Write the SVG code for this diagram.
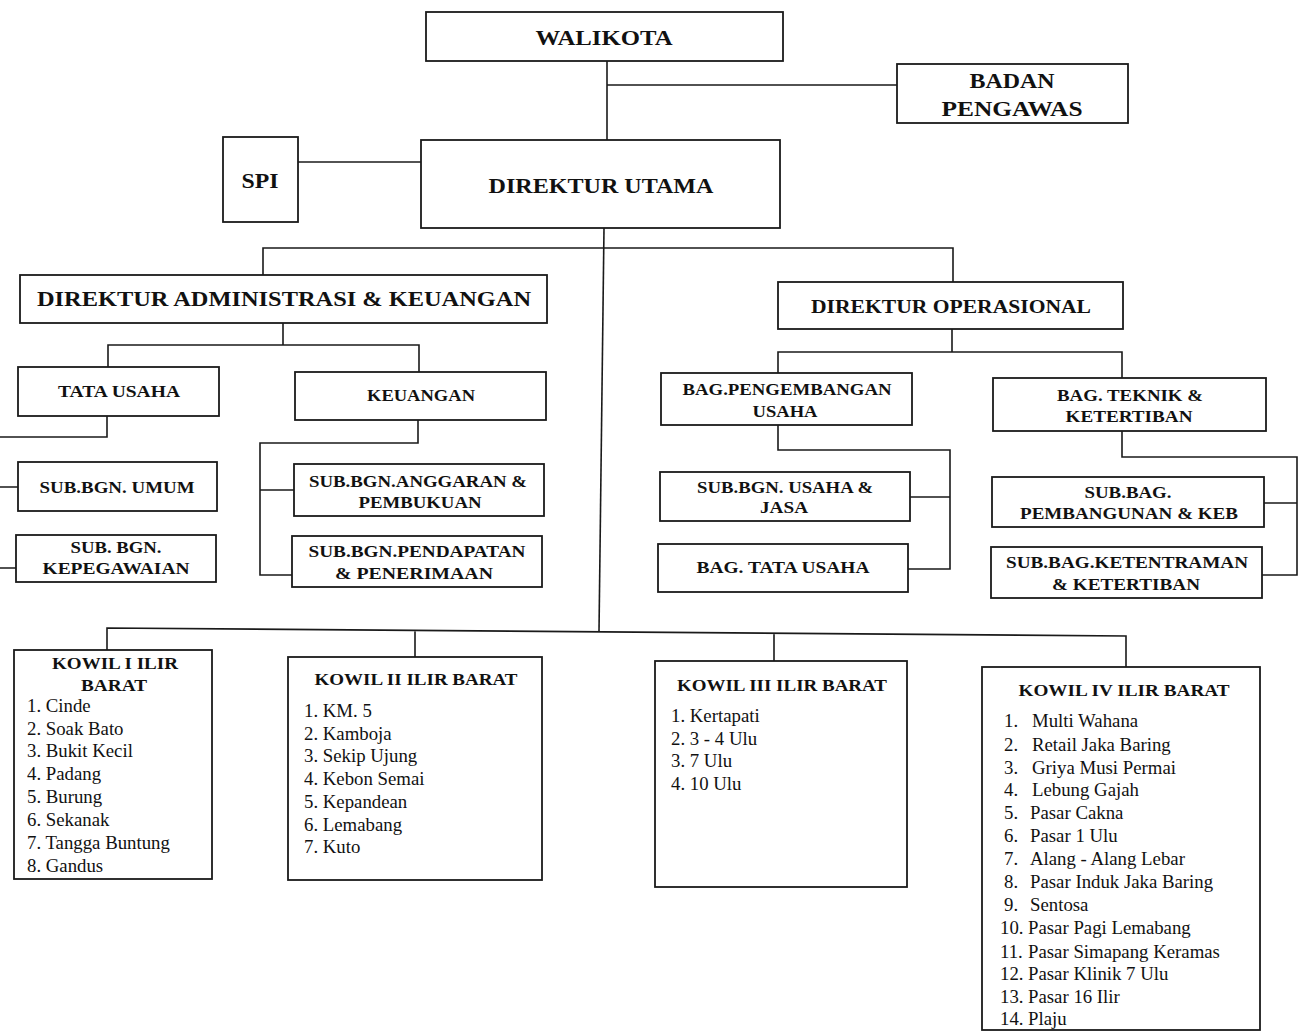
<svg xmlns="http://www.w3.org/2000/svg" width="1298" height="1033" viewBox="0 0 1298 1033">
<style>
.box{fill:#fff;stroke:#1a1a1a;stroke-width:1.8}
.ln{fill:none;stroke:#1a1a1a;stroke-width:1.6}
.h{font-family:"Liberation Serif","Times New Roman",serif;font-weight:bold;fill:#111;text-anchor:middle}
.i{font-family:"Liberation Serif","Times New Roman",serif;fill:#111;font-size:18.8px}
</style>
<rect width="1298" height="1033" fill="#fff"/>
<g id="connectors">
<path class="ln" d="M607 61 V142 M607 85 H897"/>
<path class="ln" d="M298 162 H421"/>
<path class="ln" d="M604 228 L599 632"/>
<path class="ln" d="M263 275 V248 H953 V283"/>
<path class="ln" d="M283 323 V345 M108 367 V345 H419 V372"/>
<path class="ln" d="M107 416 V437 H0"/>
<path class="ln" d="M0 487 H18 M0 568 H16"/>
<path class="ln" d="M418 420 V443 H260 V575 H292 M260 490 H294"/>
<path class="ln" d="M952 329 V352 M778 373 V352 H1122 V378"/>
<path class="ln" d="M778 425 V450 H950 V569 H908 M910 497 H950"/>
<path class="ln" d="M1122 431 V457 H1297 V575 H1262 M1264 503 H1297"/>
<path class="ln" d="M107 650 V628 L1126 636 V667 M415 658 V630 M774 661 V633"/>
</g>
<g id="walikota"><rect class="box" x="426" y="12" width="357" height="49"/><text class="h" x="604" y="45" font-size="20" textLength="137" lengthAdjust="spacingAndGlyphs">WALIKOTA</text></g>
<g id="badan-pengawas"><rect class="box" x="897" y="64" width="231" height="59"/><text class="h" x="1012" y="88" font-size="20" textLength="85" lengthAdjust="spacingAndGlyphs">BADAN</text><text class="h" x="1012" y="116" font-size="20" textLength="141" lengthAdjust="spacingAndGlyphs">PENGAWAS</text></g>
<g id="spi"><rect class="box" x="223" y="137" width="75" height="85"/><text class="h" x="260" y="188" font-size="20" textLength="37" lengthAdjust="spacingAndGlyphs">SPI</text></g>
<g id="direktur-utama"><rect class="box" x="421" y="140" width="359" height="88"/><text class="h" x="601" y="193" font-size="21" textLength="225" lengthAdjust="spacingAndGlyphs">DIREKTUR UTAMA</text></g>
<g id="dir-adm"><rect class="box" x="20" y="275" width="527" height="48"/><text class="h" x="284" y="306" font-size="22" textLength="494" lengthAdjust="spacingAndGlyphs">DIREKTUR ADMINISTRASI &amp; KEUANGAN</text></g>
<g id="dir-ops"><rect class="box" x="778" y="282" width="345" height="47"/><text class="h" x="951" y="313" font-size="19" textLength="280" lengthAdjust="spacingAndGlyphs">DIREKTUR OPERASIONAL</text></g>
<g id="tata-usaha"><rect class="box" x="18" y="367" width="201" height="49"/><text class="h" x="119" y="397" font-size="17" textLength="122" lengthAdjust="spacingAndGlyphs">TATA USAHA</text></g>
<g id="keuangan"><rect class="box" x="295" y="372" width="251" height="48"/><text class="h" x="421" y="401" font-size="17" textLength="108" lengthAdjust="spacingAndGlyphs">KEUANGAN</text></g>
<g id="sub-umum"><rect class="box" x="18" y="462" width="199" height="49"/><text class="h" x="117" y="493" font-size="17" textLength="155" lengthAdjust="spacingAndGlyphs">SUB.BGN. UMUM</text></g>
<g id="sub-kepegawaian"><rect class="box" x="16" y="535" width="200" height="47"/><text class="h" x="116" y="553" font-size="17" textLength="91" lengthAdjust="spacingAndGlyphs">SUB. BGN.</text><text class="h" x="116" y="574" font-size="17" textLength="147" lengthAdjust="spacingAndGlyphs">KEPEGAWAIAN</text></g>
<g id="sub-anggaran"><rect class="box" x="294" y="464" width="250" height="52"/><text class="h" x="418" y="487" font-size="17" textLength="218" lengthAdjust="spacingAndGlyphs">SUB.BGN.ANGGARAN &amp;</text><text class="h" x="420" y="508" font-size="17" textLength="123" lengthAdjust="spacingAndGlyphs">PEMBUKUAN</text></g>
<g id="sub-pendapatan"><rect class="box" x="292" y="536" width="250" height="51"/><text class="h" x="417" y="557" font-size="17" textLength="217" lengthAdjust="spacingAndGlyphs">SUB.BGN.PENDAPATAN</text><text class="h" x="414" y="579" font-size="17" textLength="158" lengthAdjust="spacingAndGlyphs">&amp; PENERIMAAN</text></g>
<g id="bag-pengembangan"><rect class="box" x="661" y="373" width="251" height="52"/><text class="h" x="787" y="395" font-size="16" textLength="209" lengthAdjust="spacingAndGlyphs">BAG.PENGEMBANGAN</text><text class="h" x="785" y="417" font-size="16" textLength="65" lengthAdjust="spacingAndGlyphs">USAHA</text></g>
<g id="bag-teknik"><rect class="box" x="993" y="378" width="273" height="53"/><text class="h" x="1130" y="401" font-size="17" textLength="146" lengthAdjust="spacingAndGlyphs">BAG. TEKNIK &amp;</text><text class="h" x="1129" y="422" font-size="17" textLength="127" lengthAdjust="spacingAndGlyphs">KETERTIBAN</text></g>
<g id="sub-usaha-jasa"><rect class="box" x="660" y="472" width="250" height="49"/><text class="h" x="785" y="493" font-size="16" textLength="176" lengthAdjust="spacingAndGlyphs">SUB.BGN. USAHA &amp;</text><text class="h" x="784" y="513" font-size="16" textLength="48" lengthAdjust="spacingAndGlyphs">JASA</text></g>
<g id="bag-tata-usaha"><rect class="box" x="658" y="544" width="250" height="48"/><text class="h" x="783" y="573" font-size="16" textLength="173" lengthAdjust="spacingAndGlyphs">BAG. TATA USAHA</text></g>
<g id="sub-pembangunan"><rect class="box" x="992" y="477" width="272" height="50"/><text class="h" x="1128" y="498" font-size="17" textLength="87" lengthAdjust="spacingAndGlyphs">SUB.BAG.</text><text class="h" x="1129" y="519" font-size="17" textLength="218" lengthAdjust="spacingAndGlyphs">PEMBANGUNAN &amp; KEB</text></g>
<g id="sub-ketentraman"><rect class="box" x="991" y="547" width="271" height="51"/><text class="h" x="1127" y="568" font-size="17" textLength="242" lengthAdjust="spacingAndGlyphs">SUB.BAG.KETENTRAMAN</text><text class="h" x="1126" y="590" font-size="17" textLength="148" lengthAdjust="spacingAndGlyphs">&amp; KETERTIBAN</text></g>
<g id="kowil-1"><rect class="box" x="14" y="650" width="198" height="229"/><text class="h" x="115" y="669" font-size="17" textLength="126" lengthAdjust="spacingAndGlyphs">KOWIL I ILIR</text><text class="h" x="114" y="691" font-size="17" textLength="66" lengthAdjust="spacingAndGlyphs">BARAT</text>
<text class="i" x="27" y="712">1. Cinde</text><text class="i" x="27" y="735">2. Soak Bato</text><text class="i" x="27" y="757">3. Bukit Kecil</text><text class="i" x="27" y="780">4. Padang</text><text class="i" x="27" y="803">5. Burung</text><text class="i" x="27" y="826">6. Sekanak</text><text class="i" x="27" y="849">7. Tangga Buntung</text><text class="i" x="27" y="872">8. Gandus</text></g>
<g id="kowil-2"><rect class="box" x="288" y="657" width="254" height="223"/><text class="h" x="416" y="685" font-size="17" textLength="203" lengthAdjust="spacingAndGlyphs">KOWIL II ILIR BARAT</text>
<text class="i" x="304" y="717">1. KM. 5</text><text class="i" x="304" y="740">2. Kamboja</text><text class="i" x="304" y="762">3. Sekip Ujung</text><text class="i" x="304" y="785">4. Kebon Semai</text><text class="i" x="304" y="808">5. Kepandean</text><text class="i" x="304" y="831">6. Lemabang</text><text class="i" x="304" y="853">7. Kuto</text></g>
<g id="kowil-3"><rect class="box" x="655" y="661" width="252" height="226"/><text class="h" x="782" y="691" font-size="17" textLength="210" lengthAdjust="spacingAndGlyphs">KOWIL III ILIR BARAT</text>
<text class="i" x="671" y="722">1. Kertapati</text><text class="i" x="671" y="745">2. 3 - 4 Ulu</text><text class="i" x="671" y="767">3. 7 Ulu</text><text class="i" x="671" y="790">4. 10 Ulu</text></g>
<g id="kowil-4"><rect class="box" x="982" y="667" width="278" height="363"/><text class="h" x="1124" y="696" font-size="17" textLength="211" lengthAdjust="spacingAndGlyphs">KOWIL IV ILIR BARAT</text>
<text class="i" x="1004" y="727">1.</text><text class="i" x="1032" y="727">Multi Wahana</text>
<text class="i" x="1004" y="751">2.</text><text class="i" x="1032" y="751">Retail Jaka Baring</text>
<text class="i" x="1004" y="774">3.</text><text class="i" x="1032" y="774">Griya Musi Permai</text>
<text class="i" x="1004" y="796">4.</text><text class="i" x="1032" y="796">Lebung Gajah</text>
<text class="i" x="1004" y="819">5.</text><text class="i" x="1030" y="819">Pasar Cakna</text>
<text class="i" x="1004" y="842">6.</text><text class="i" x="1030" y="842">Pasar 1 Ulu</text>
<text class="i" x="1004" y="865">7.</text><text class="i" x="1030" y="865">Alang - Alang Lebar</text>
<text class="i" x="1004" y="888">8.</text><text class="i" x="1030" y="888">Pasar Induk Jaka Baring</text>
<text class="i" x="1004" y="911">9.</text><text class="i" x="1030" y="911">Sentosa</text>
<text class="i" x="1000" y="934">10.</text><text class="i" x="1028" y="934">Pasar Pagi Lemabang</text>
<text class="i" x="1000" y="958">11.</text><text class="i" x="1028" y="958">Pasar Simapang Keramas</text>
<text class="i" x="1000" y="980">12.</text><text class="i" x="1028" y="980">Pasar Klinik 7 Ulu</text>
<text class="i" x="1000" y="1003">13.</text><text class="i" x="1028" y="1003">Pasar 16 Ilir</text>
<text class="i" x="1000" y="1025">14.</text><text class="i" x="1028" y="1025">Plaju</text></g>
</svg>
